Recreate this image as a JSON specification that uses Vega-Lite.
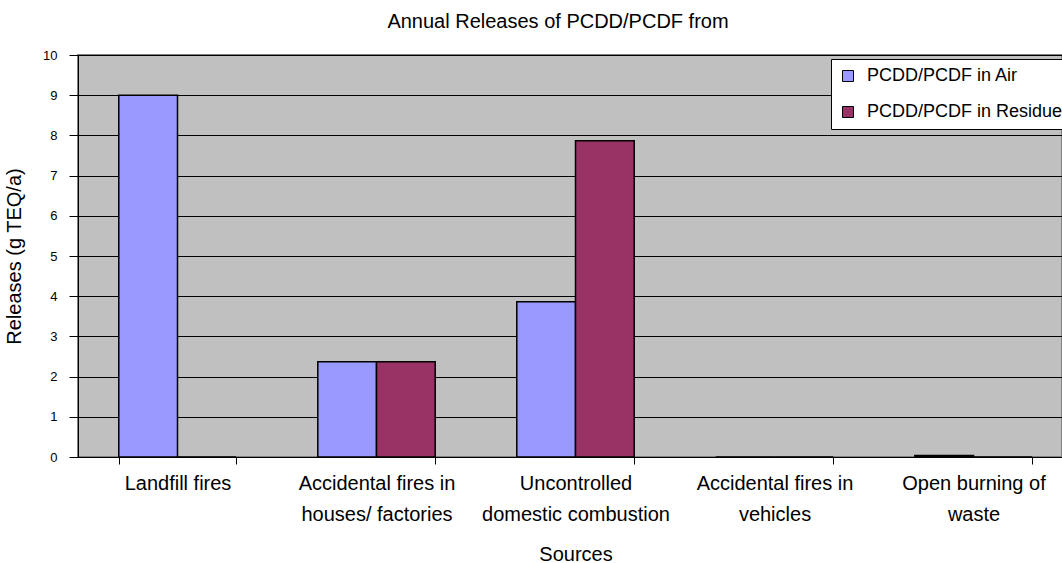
{
  "$schema": "https://vega.github.io/schema/vega-lite/v6.json",
  "width": 984,
  "height": 402,
  "autosize": {"type": "none"},
  "padding": {"left": 78, "top": 55, "right": 0, "bottom": 106},
  "background": "white",
  "title": {"text": "Annual Releases of PCDD/PCDF from", "fontSize": 20, "font": "Liberation Sans", "fontWeight": "normal", "color": "black", "dx": -12, "offset": 17, "anchor": "middle"},
  "data": {"values": [
    {"source": "Landfill fires", "series": "PCDD/PCDF in Air", "release": 9.0},
    {"source": "Landfill fires", "series": "PCDD/PCDF in Residue", "release": 0},
    {"source": "Accidental fires in|houses/ factories", "series": "PCDD/PCDF in Air", "release": 2.37},
    {"source": "Accidental fires in|houses/ factories", "series": "PCDD/PCDF in Residue", "release": 2.37},
    {"source": "Uncontrolled|domestic combustion", "series": "PCDD/PCDF in Air", "release": 3.86},
    {"source": "Uncontrolled|domestic combustion", "series": "PCDD/PCDF in Residue", "release": 7.87},
    {"source": "Accidental fires in|vehicles", "series": "PCDD/PCDF in Air", "release": 0},
    {"source": "Accidental fires in|vehicles", "series": "PCDD/PCDF in Residue", "release": 0},
    {"source": "Open burning of|waste", "series": "PCDD/PCDF in Air", "release": 0.04},
    {"source": "Open burning of|waste", "series": "PCDD/PCDF in Residue", "release": 0}
  ]},
  "mark": {"type": "bar", "stroke": "black", "strokeWidth": 1.5},
  "encoding": {
    "x": {
      "field": "source", "type": "nominal", "sort": null,
      "scale": {"range": [0, 995], "paddingInner": 0.41, "paddingOuter": 0.205},
      "axis": {
        "title": "Sources", "labelExpr": "split(datum.label, '|')", "labelAngle": 0,
        "labelFontSize": 20, "labelLineHeight": 31, "labelColor": "black", "labelFont": "Liberation Sans",
        "labelLimit": 400, "tickBand": "extent", "tickSize": 7, "tickColor": "black", "domainColor": "black",
        "labelPadding": 9, "titleFontSize": 20, "titleFontWeight": "normal", "titleFont": "Liberation Sans",
        "titleColor": "black", "titlePadding": 20, "grid": false
      }
    },
    "xOffset": {"field": "series", "type": "nominal", "sort": ["PCDD/PCDF in Air", "PCDD/PCDF in Residue"], "scale": {"paddingInner": 0, "paddingOuter": 0}},
    "y": {
      "field": "release", "type": "quantitative",
      "scale": {"domain": [0, 10], "nice": false},
      "axis": {
        "title": "Releases (g TEQ/a)", "values": [0, 1, 2, 3, 4, 5, 6, 7, 8, 9, 10],
        "tickSize": 9, "labelPadding": 12, "labelFontSize": 13, "labelFont": "Liberation Sans", "labelColor": "black",
        "grid": true, "gridColor": "black", "gridWidth": 1, "gridOpacity": 1, "domainColor": "black", "tickColor": "black",
        "titleFontSize": 20, "titleFontWeight": "normal", "titleFont": "Liberation Sans", "titleColor": "black", "titlePadding": 18
      }
    },
    "color": {
      "field": "series", "type": "nominal",
      "scale": {"domain": ["PCDD/PCDF in Air", "PCDD/PCDF in Residue"], "range": ["#9999FF", "#993366"]},
      "legend": {
        "orient": "none", "legendX": 753, "legendY": 4, "title": null,
        "fillColor": "white", "strokeColor": "black", "padding": 8, "rowPadding": 18,
        "symbolType": "square", "symbolSize": 121, "symbolStrokeColor": "black", "symbolStrokeWidth": 1, "symbolOpacity": 1,
        "labelFontSize": 18, "labelFont": "Liberation Sans", "labelColor": "black", "labelOffset": 10, "labelLimit": 400
      }
    }
  },
  "config": {"view": {"fill": "#C0C0C0", "stroke": "#808080", "strokeWidth": 2}}
}
